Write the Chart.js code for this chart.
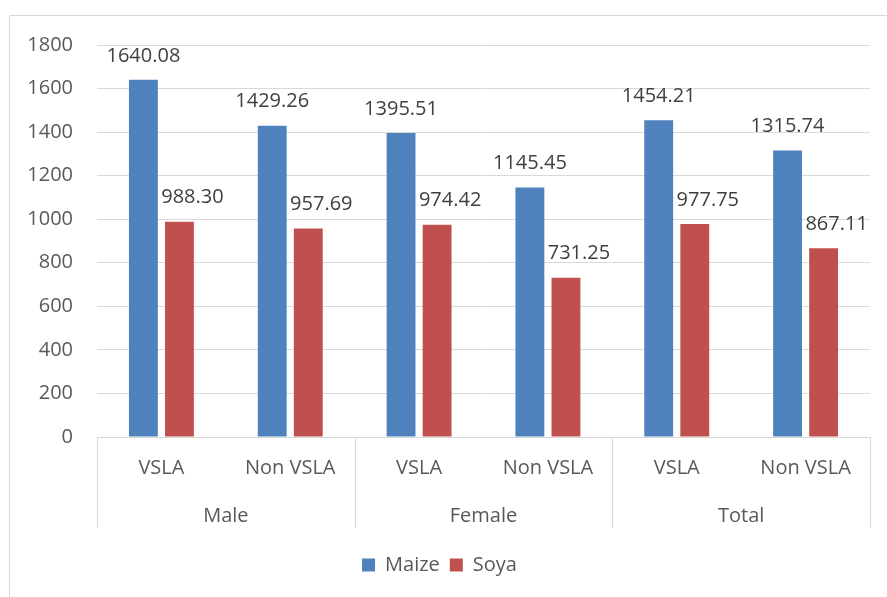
<!DOCTYPE html>
<html>
<head>
<meta charset="utf-8">
<script src="https://cdn.jsdelivr.net/npm/chart.js@4.4.1/dist/chart.umd.min.js"></script>
<style>
  html, body { margin: 0; padding: 0; background: #fff; }
  #wrap { width: 887px; height: 597px; }
</style>
</head>
<body>
<div id="wrap"><canvas id="chart" width="887" height="597"></canvas></div>
<script>
// values
const subLabels = ['VSLA', 'Non VSLA', 'VSLA', 'Non VSLA', 'VSLA', 'Non VSLA'];
const groupLabels = ['Male', 'Female', 'Total'];
const maize = [1640.08, 1429.26, 1395.51, 1145.45, 1454.21, 1315.74];
const soya = [988.30, 957.69, 974.42, 731.25, 977.75, 867.11];

const FONT = '"Open Sans", "DejaVu Sans", sans-serif';
const gridColor = '#d9d9d9';
const textColor = '#595959';

// outer border, group dividers, group names, value labels
const extras = {
    id: 'extras',
    beforeDraw(chart) {
        const ctx = chart.ctx;
        ctx.save();
        ctx.strokeStyle = gridColor;
        ctx.lineWidth = 1;
        ctx.beginPath();
        ctx.moveTo(9.5, 597);
        ctx.lineTo(9.5, 15.5);
        ctx.lineTo(887, 15.5);
        ctx.stroke();
        ctx.restore();
    },
    afterDraw(chart) {
        const ctx = chart.ctx;
        const x = chart.scales.x;
        const area = chart.chartArea;
        const step = (area.right - area.left) / subLabels.length;
        ctx.save();
        ctx.strokeStyle = gridColor;
        ctx.lineWidth = 1;
        for (let g = 0; g <= groupLabels.length; g++) {
            const px = Math.round(area.left + g * 2 * step) + 0.5;
            ctx.beginPath();
            ctx.moveTo(px, area.bottom);
            ctx.lineTo(px, area.bottom + 91);
            ctx.stroke();
        }
        ctx.font = '20px ' + FONT;
        ctx.fillStyle = textColor;
        ctx.textAlign = 'center';
        ctx.textBaseline = 'middle';
        groupLabels.forEach((name, g) => {
            const cx = (x.getPixelForValue(g * 2) + x.getPixelForValue(g * 2 + 1)) / 2;
            ctx.fillText(name, cx, area.bottom + 79);
        });

        // value labels above bars
        ctx.fillStyle = '#404040';
        chart.data.datasets.forEach((ds, i) => {
            const meta = chart.getDatasetMeta(i);
            const shift = i === 1 ? 13 : 0;
            meta.data.forEach((bar, j) => {
                ctx.fillText(ds.data[j].toFixed(2), bar.x + shift, bar.y - 24);
            });
        });
        ctx.restore();
    }
};

new Chart(document.getElementById('chart'), {
    type: 'bar',
    data: {
        labels: subLabels,
        datasets: [{
            label: 'Maize',
            data: maize,
            backgroundColor: '#4f81bd',
            categoryPercentage: 0.56,
            barPercentage: 0.8
        }, {
            label: 'Soya',
            data: soya,
            backgroundColor: '#c0504d',
            categoryPercentage: 0.56,
            barPercentage: 0.8
        }]
    },
    options: {
        responsive: false,
        animation: false,
        layout: { padding: { left: 9, top: 45, right: 17, bottom: 12 } },
        plugins: {
            legend: {
                position: 'bottom',
                labels: {
                    font: { family: FONT, size: 20 },
                    color: textColor,
                    boxWidth: 13,
                    boxHeight: 13,
                    padding: 10
                }
            },
            tooltip: { enabled: false }
        },
        scales: {
            x: {
                grid: { display: false },
                border: { display: true, color: gridColor },
                ticks: {
                    font: { family: FONT, size: 20 },
                    color: textColor,
                    padding: 11,
                    maxRotation: 0,
                    autoSkip: false
                },
                afterFit(scale) { scale.height = 108; }
            },
            y: {
                min: 0,
                max: 1800,
                grid: { color: gridColor, drawTicks: false },
                border: { display: false },
                ticks: {
                    stepSize: 200,
                    font: { family: FONT, size: 20 },
                    color: textColor,
                    padding: 24,
                    callback: v => String(v)
                },
                afterFit(scale) { scale.width = 88; }
            }
        }
    },
    plugins: [extras]
});
</script>
</body>
</html>
